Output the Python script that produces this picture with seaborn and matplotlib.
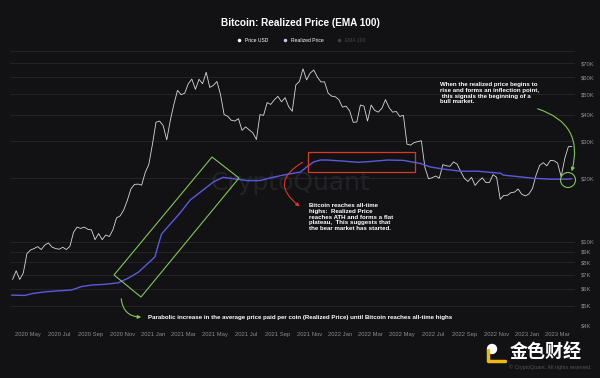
import numpy as np
import pandas as pd
import seaborn as sns
import matplotlib.pyplot as plt
import matplotlib.dates as mdates
from matplotlib.patches import Polygon, Rectangle, Ellipse, FancyArrowPatch
from matplotlib.lines import Line2D

# weekly BTC price (USD), starting 2020-04-01
price_start = "2020-04-01"
price_usd = [
    6640, 7300, 6640, 7130, 8800, 9150, 9300, 9500, 9200, 9670, 9890, 9450, 9300, 9230,
    9430, 9200, 9530, 11100, 11750, 11580, 11750, 11470, 11400, 10240, 10950, 10240,
    10780, 10600, 11430, 12990, 13270, 14150, 15700, 17800, 18700, 18770, 18550, 21300,
    23240, 28900,
    36800, 37300, 35500, 30400, 37600, 44800, 52100, 49700, 50500, 56000, 58900, 52700,
    58800, 56000, 63500, 53800, 55000, 57400, 49700, 40000, 39300, 37600, 37300, 38300,
    33700, 35000, 33900, 32800, 30500, 40000, 39700, 45600, 44700, 47000, 48800, 46000,
    48100, 43600, 41500, 55300, 57400, 65900, 58400, 62900, 65000, 60300, 57100, 57200,
    50600, 48900, 48600, 47100,
    43400, 43900, 41700, 36800, 36900, 44400, 43900, 37300, 44400, 41900, 41100, 42900,
    47100, 43200, 41100, 41400, 39200, 39700, 29000, 28700, 29500, 29800, 30100, 22500,
    19900, 20100, 20500, 20000, 23200, 22900, 22800, 23900, 23300, 21500, 20000, 19300,
    20200, 18500, 19400, 20100, 19100, 19100, 20800, 20200, 15900, 16600, 16600, 17100,
    17200, 17800, 16800, 16500,
    16850, 17900, 20700, 23000, 23700, 22900, 24300, 24200, 23600, 20300, 24800, 28200,
    28300,
]

# realized price (EMA 100)
realized_dates = [
    "2020-03-30", "2020-04-25", "2020-05-10", "2020-06-03", "2020-07-01", "2020-07-25",
    "2020-08-14", "2020-09-03", "2020-09-28", "2020-10-24", "2020-11-13", "2020-12-03",
    "2020-12-22", "2021-01-04", "2021-01-10", "2021-01-17", "2021-01-28", "2021-02-22",
    "2021-03-14", "2021-04-08", "2021-04-28", "2021-05-17", "2021-06-06", "2021-07-03",
    "2021-07-28", "2021-08-11", "2021-09-11", "2021-10-15", "2021-10-28", "2021-11-10",
    "2021-11-23", "2021-12-06", "2022-01-07", "2022-02-05", "2022-02-28", "2022-04-03",
    "2022-05-04", "2022-05-24", "2022-06-06", "2022-06-26", "2022-07-21", "2022-08-23",
    "2022-09-26", "2022-11-10", "2022-11-15", "2023-01-13", "2023-02-15", "2023-03-21",
    "2023-03-29",
]
realized_price = [
    5600, 5580, 5700, 5800, 5870, 5920, 6150, 6250, 6300, 6400, 6740, 7200,
    7940, 8500, 9600, 10900, 11700, 13700, 15800, 17600, 19200, 20200, 19900, 19500,
    19500, 19900, 20700, 21400, 22700, 23900, 24400, 24400, 24100, 23800, 24000, 24400,
    24300, 23800, 23500, 22600, 22100, 21600, 21600, 21100, 20700, 20000, 19800, 19800,
    19900,
]

y_ticks = [4000, 5000, 6000, 7000, 8000, 9000, 10000, 20000, 30000, 40000, 50000, 60000, 70000, 80000]
y_labels = ["$4K", "$5K", "$6K", "$7K", "$8K", "$9K", "$10K", "$20K", "$30K", "$40K", "$50K", "$60K", "$70K", ""]

bg = "#121215"
W, H = 600, 378

sns.set_style("dark", {"axes.facecolor": bg, "figure.facecolor": bg})
plt.rcParams["font.family"] = ["Liberation Sans Narrow", "Liberation Sans", "DejaVu Sans"]

price_df = pd.DataFrame({
    "date": pd.date_range(price_start, periods=len(price_usd), freq="7D"),
    "price": price_usd,
})
real_df = pd.DataFrame({"date": pd.to_datetime(realized_dates), "price": realized_price})

fig = plt.figure(figsize=(6, 3.78), dpi=100)
ax = fig.add_axes([10 / W, 1 - 326 / H, 565 / W, 275 / H])

sns.lineplot(data=price_df, x="date", y="price", ax=ax, color="#d8d8d8", lw=0.6, zorder=3)
sns.lineplot(data=real_df, x="date", y="price", ax=ax, color="#5a5ae0", lw=1.0, zorder=4)

ax.set_yscale("log")
ax.set_ylim(4000, 80000)
ax.set_xlim(pd.Timestamp("2020-03-27"), pd.Timestamp("2023-04-04"))
ax.set_yticks(y_ticks)
ax.set_yticklabels(y_labels)
ax.yaxis.set_minor_locator(plt.NullLocator())
ax.yaxis.tick_right()
ax.set_xticks(pd.date_range("2020-05-01", "2023-03-01", freq="2MS"))
ax.xaxis.set_major_formatter(mdates.DateFormatter("%Y %b"))
ax.tick_params(axis="both", length=0, colors="#8a8a90", labelsize=4.2)
ax.tick_params(axis="x", pad=4)
ax.tick_params(axis="y", pad=4)
ax.set_xlabel("")
ax.set_ylabel("")
ax.grid(axis="y", color="#2a2a30", lw=0.5)
ax.grid(axis="x", visible=False)
for s in ax.spines.values():
    s.set_visible(False)

# watermark
ax.text(291 / W, 1 - 183 / H, "CryptoQuant", transform=fig.transFigure, ha="center", va="center",
        fontsize=18, color="#232327", family="DejaVu Sans", zorder=0.5)

fig.text(0.5, 1 - 23 / H, "Bitcoin: Realized Price (EMA 100)", ha="center", va="center",
         fontsize=7.2, fontweight="bold", color="white")

handles = [
    Line2D([], [], marker="o", ls="", color="white", markersize=1.5),
    Line2D([], [], marker="o", ls="", color="#c8c8f0", markersize=1.5),
    Line2D([], [], marker="o", ls="", color="#444448", markersize=1.5),
]
leg = fig.legend(handles, ["Price USD", "Realized Price", "EMA 100"], loc="center",
                 bbox_to_anchor=(0.5, 1 - 40 / H), ncol=3, frameon=False, fontsize=3.6,
                 handletextpad=0.2, columnspacing=2.2)
for t, c in zip(leg.get_texts(), ["white", "white", "#444448"]):
    t.set_color(c)


def px(x, y):
    return (x / W, 1 - y / H)


tf = fig.transFigure
green = "#7ec850"
red = "#d93a25"

# green rotated box around the parabolic rise
fig.add_artist(Polygon([px(114, 275), px(212, 157), px(239, 178), px(141, 297)], closed=True,
                       fill=False, ec=green, lw=0.8, transform=tf))
# red box around the plateau
fig.add_artist(Rectangle(px(308, 172), 107 / W, 20 / H, fill=False, ec=red, lw=0.9, transform=tf))
# green circle at the inflection point
fig.add_artist(Ellipse(px(568, 180), 15 / W, 15 / H, fill=False, ec=green, lw=0.8, transform=tf))

arrow_kw = dict(transform=tf, arrowstyle="-|>", mutation_scale=5, lw=0.8)
fig.add_artist(FancyArrowPatch(px(305, 161), px(302, 208), connectionstyle="arc3,rad=0.8",
                               color=red, **arrow_kw))
fig.add_artist(FancyArrowPatch(px(535, 108), px(571, 174), connectionstyle="arc3,rad=-0.5",
                               color=green, **arrow_kw))
fig.add_artist(FancyArrowPatch(px(121, 296), px(144, 317), connectionstyle="arc3,rad=0.5",
                               color=green, **arrow_kw))

note_kw = dict(color="white", fontsize=4.4, fontweight="bold", linespacing=1.2)
fig.text(*px(440, 82), "When the realized price begins to\nrise and forms an inflection point,\n"
         " this signals the beginning of a\nbull market.", ha="left", va="top", **note_kw)
fig.text(*px(309, 203), "Bitcoin reaches all-time\nhighs:  Realized Price\nreaches ATH and forms a flat\n"
         "plateau,  This suggests that\nthe bear market has started.", ha="left", va="top", **note_kw)
fig.text(*px(148, 317), "Parabolic increase in the average price paid per coin (Realized Price) "
         "until Bitcoin reaches all-time highs", ha="left", va="center", **note_kw)

# footer
fig.text(*px(550, 367), "© CryptoQuant. All rights reserved.", ha="center", va="center",
         fontsize=3.8, color="#55555a")
fig.text(*px(546, 352), "金色财经", ha="center", va="center", fontsize=13, fontweight="bold",
         color="white", family=["Noto Sans CJK SC", "DejaVu Sans"])
fig.add_artist(Line2D([488 / W, 488 / W, 505 / W], [1 - 350 / H, 1 - 361 / H, 1 - 361 / H],
                      color="#f0b90b", lw=2.5, transform=tf))
fig.add_artist(Ellipse(px(492, 349), 9 / W, 9 / H, color="white", transform=tf))

fig.savefig("out.png", dpi=100, facecolor=bg)
